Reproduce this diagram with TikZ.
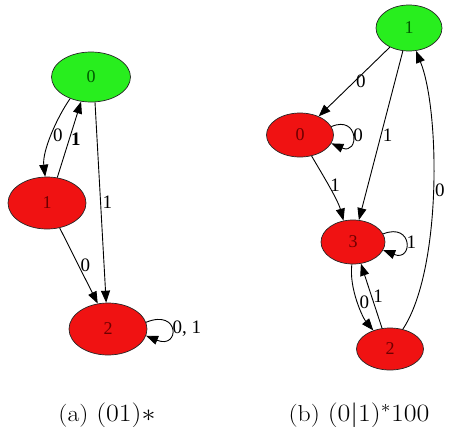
\documentclass[tikz,border=0pt]{standalone}
\usepackage{fontspec}
\newfontfamily\gvfont{Liberation Serif}
\usetikzlibrary{shapes.geometric,arrows.meta}
\definecolor{gfill}{RGB}{40,238,30}
\definecolor{rfill}{RGB}{240,18,18}
\definecolor{gtext}{RGB}{0,90,0}
\definecolor{rtext}{RGB}{110,0,0}
\begin{document}
\begin{tikzpicture}[x=1pt,y=-1pt,
  st/.style={ellipse,draw=black!85,line width=0.7pt,inner sep=0pt,font=\gvfont\fontsize{18}{18}\selectfont},
  gst/.style={st,fill=gfill,text=gtext},
  rst/.style={st,fill=rfill,text=rtext},
  edge/.style={-{Triangle[length=12pt,width=9pt]},line width=0.9pt},
  lbl/.style={font=\gvfont\fontsize{19}{19}\selectfont,inner sep=1.5pt},
  captxt/.style={font=\fontsize{23}{25}\selectfont,inner sep=0pt}
]
\useasboundingbox (0,0) rectangle (450,426);
% ---- (a)
\node[gst,minimum width=79pt,minimum height=50pt] (a0) at (91,77) {0};
\node[rst,minimum width=78pt,minimum height=52pt] (a1) at (47,203) {1};
\node[rst,minimum width=78pt,minimum height=52pt] (a2) at (108,329) {2};
\draw[edge] (a0.226) .. controls +(-14,20) and +(-3,-25) .. node[lbl,right,pos=0.5] {0} (a1.94);
\draw[edge] (a1.68) -- node[lbl,right,pos=0.5] {\bfseries 1} (a0.248);
\draw[edge] (a0.279) -- node[lbl,right,pos=0.5] {1} (a2.94);
\draw[edge] (a1.-63) -- node[lbl,right,pos=0.5] {0} (a2.112);
\draw[edge] (a2.10) .. controls +(34,-14) and +(34,14) .. node[lbl,right,pos=0.5,inner sep=0.5pt] {0, 1} (a2.-10);
% ---- (b)
\node[gst,minimum width=66pt,minimum height=46pt] (b1) at (409,28) {1};
\node[rst,minimum width=67pt,minimum height=44pt] (b0) at (300,135) {0};
\node[rst,minimum width=64pt,minimum height=44pt] (b3) at (353,242) {3};
\node[rst,minimum width=67pt,minimum height=42pt] (b2) at (390,349) {2};
\draw[edge] (b1.225) -- node[lbl,right,pos=0.5] {0} (b0.45);
\draw[edge] (b0.15) .. controls +(28,-12) and +(28,12) .. node[lbl,right,pos=0.5,inner sep=0.5pt] {0} (b0.-15);
\draw[edge] (b1.255) -- node[lbl,right,pos=0.5] {1} (b3.75);
\draw[edge] (b0.299) .. controls +(8,14) and +(-6,-22) .. node[lbl,right,pos=0.5] {1} (b3.114);
\draw[edge] (b3.15) .. controls +(30,-12) and +(30,12) .. node[lbl,right,pos=0.5,inner sep=0.5pt] {1} (b3.-15);
\draw[edge] (b3.267) .. controls +(-3,25) and +(-10,-12) .. node[lbl,right,pos=0.5] {0} (b2.132);
\draw[edge] (b2.111) -- node[lbl,right,pos=0.5] {1} (b3.290);
\draw[edge] (b2.57) .. controls (442,270) and (440,110) .. node[lbl,right,pos=0.5] {0} (b1.287);
% ---- captions
\node[captxt] (ca) at (107,415) {\scalebox{1.12}[1]{(a) $(01)*$}};
\node[captxt] (cb) at (359,415) {\scalebox{1.12}[1]{(b) $(0|1)^*100$}};
\end{tikzpicture}
\end{document}
